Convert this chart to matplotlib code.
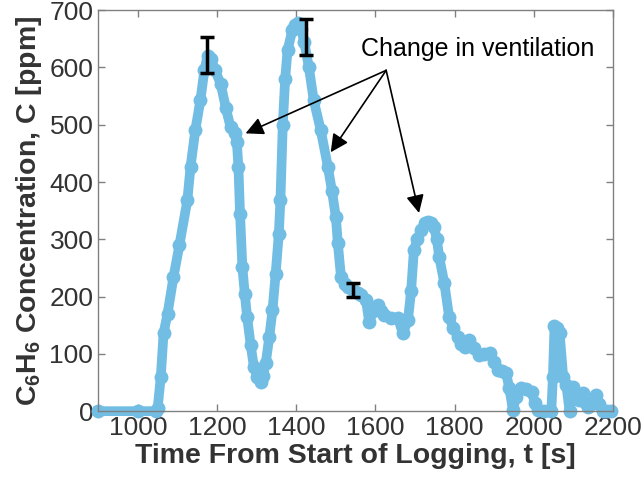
import numpy as np
import matplotlib.pyplot as plt

# config
LINE_COLOR = '#72bde3'
TEXT_COLOR = '#333333'
AXIS_COLOR = '#808080'

plt.rcParams['font.family'] = ['Liberation Sans', 'DejaVu Sans']
plt.rcParams['mathtext.fontset'] = 'custom'
plt.rcParams['mathtext.rm'] = 'Liberation Sans'
plt.rcParams['mathtext.bf'] = 'Liberation Sans:bold'

time_s = [900, 1000, 1045, 1050, 1058, 1065, 1075, 1090, 1105, 1125, 1133, 1145,
          1158, 1168, 1176, 1185, 1195, 1209, 1222, 1234, 1245, 1250, 1254, 1258,
          1264, 1270, 1276, 1285, 1293, 1302, 1310, 1316, 1323, 1332, 1340, 1348,
          1356, 1360, 1366, 1372, 1378, 1390, 1398, 1404, 1412, 1420, 1432, 1444,
          1462, 1480, 1490, 1500, 1505, 1513, 1522, 1530, 1543, 1555, 1563, 1576,
          1584, 1595, 1606, 1615, 1622, 1640, 1657, 1669, 1682, 1690, 1697, 1706,
          1715, 1724, 1732, 1740, 1748, 1755, 1761, 1774, 1786, 1797, 1808, 1816,
          1825, 1837, 1850, 1862, 1875, 1888, 1900, 1910, 1920, 1930, 1938, 1947,
          1955, 1968, 1980, 1994, 2003, 2011, 2025, 2044, 2048, 2052, 2058, 2065,
          2074, 2082, 2090, 2095, 2099, 2107, 2115, 2125, 2132, 2137, 2147, 2158,
          2165, 2175, 2185, 2195]
conc_ppm = [0, 0, 0, 5, 60, 136, 170, 234, 290, 368, 426, 490,
            543, 595, 620, 615, 595, 572, 530, 496, 485, 470, 426, 345,
            251, 205, 164, 115, 77, 60, 51, 62, 84, 130, 176, 240,
            310, 368, 500, 580, 630, 665, 675, 677, 668, 645, 600, 543,
            490, 426, 385, 339, 293, 234, 222, 217, 212, 207, 202, 194,
            156, 175, 185, 175, 168, 163, 162, 136, 159, 210, 281, 300,
            316, 328, 330, 328, 321, 300, 269, 223, 164, 145, 129, 118,
            112, 124, 110, 98, 100, 101, 85, 72, 70, 66, 40, 2,
            25, 40, 38, 33, 15, 2, 0, 0, 60, 148, 145, 136,
            60, 45, 0, 30, 42, 25, 19, 31, 15, 7, 15, 28,
            12, 0, 0, 0]

# uncertainty bars
err_t = [1174, 1424, 1543]
err_c = [622, 653, 212]
err_d = [31, 32, 12]

# annotation
note_text = 'Change in ventilation'
note_xy = (1859, 633)
arrow_from = (1627, 595)
arrow_tips = [(1272, 485), (1487, 452), (1710, 346)]

fig = plt.figure(figsize=(6.42, 4.86), dpi=100)
ax = fig.add_axes([0.153, 0.154, 0.802, 0.825])

ax.plot(time_s, conc_ppm, '-o', color=LINE_COLOR, lw=7, ms=9,
        mec=LINE_COLOR, zorder=2, clip_on=False)
ax.errorbar(err_t, err_c, yerr=err_d, fmt='none', ecolor='black',
            elinewidth=2.5, capsize=5, capthick=2.5, zorder=3)

ax.text(note_xy[0], note_xy[1], note_text, fontsize=18, color='black',
        ha='center', va='center')
for tip in arrow_tips:
    ax.annotate('', xy=tip, xytext=arrow_from,
                arrowprops=dict(arrowstyle='-|>,head_length=0.9,head_width=0.45',
                                mutation_scale=12, color='black', lw=1.2,
                                shrinkA=0, shrinkB=0))

ax.set_xlim(900, 2200)
ax.set_ylim(0, 700)
ax.set_xticks(np.arange(1000, 2201, 200))
ax.set_yticks(np.arange(0, 701, 100))

ax.tick_params(direction='in', top=True, right=True, length=5,
               width=1, color=AXIS_COLOR, labelsize=19, labelcolor=TEXT_COLOR)
for s in ax.spines.values():
    s.set_color(AXIS_COLOR)
    s.set_linewidth(1)

ax.set_xlabel('Time From Start of Logging, t [s]', fontsize=20.5,
              fontweight='bold', color=TEXT_COLOR, labelpad=2)
ax.set_ylabel(r'$\mathbf{C_6H_6}$ Concentration, C [ppm]', fontsize=20.5,
              fontweight='bold', color=TEXT_COLOR, labelpad=4)

fig.savefig('out.png', dpi=100)
